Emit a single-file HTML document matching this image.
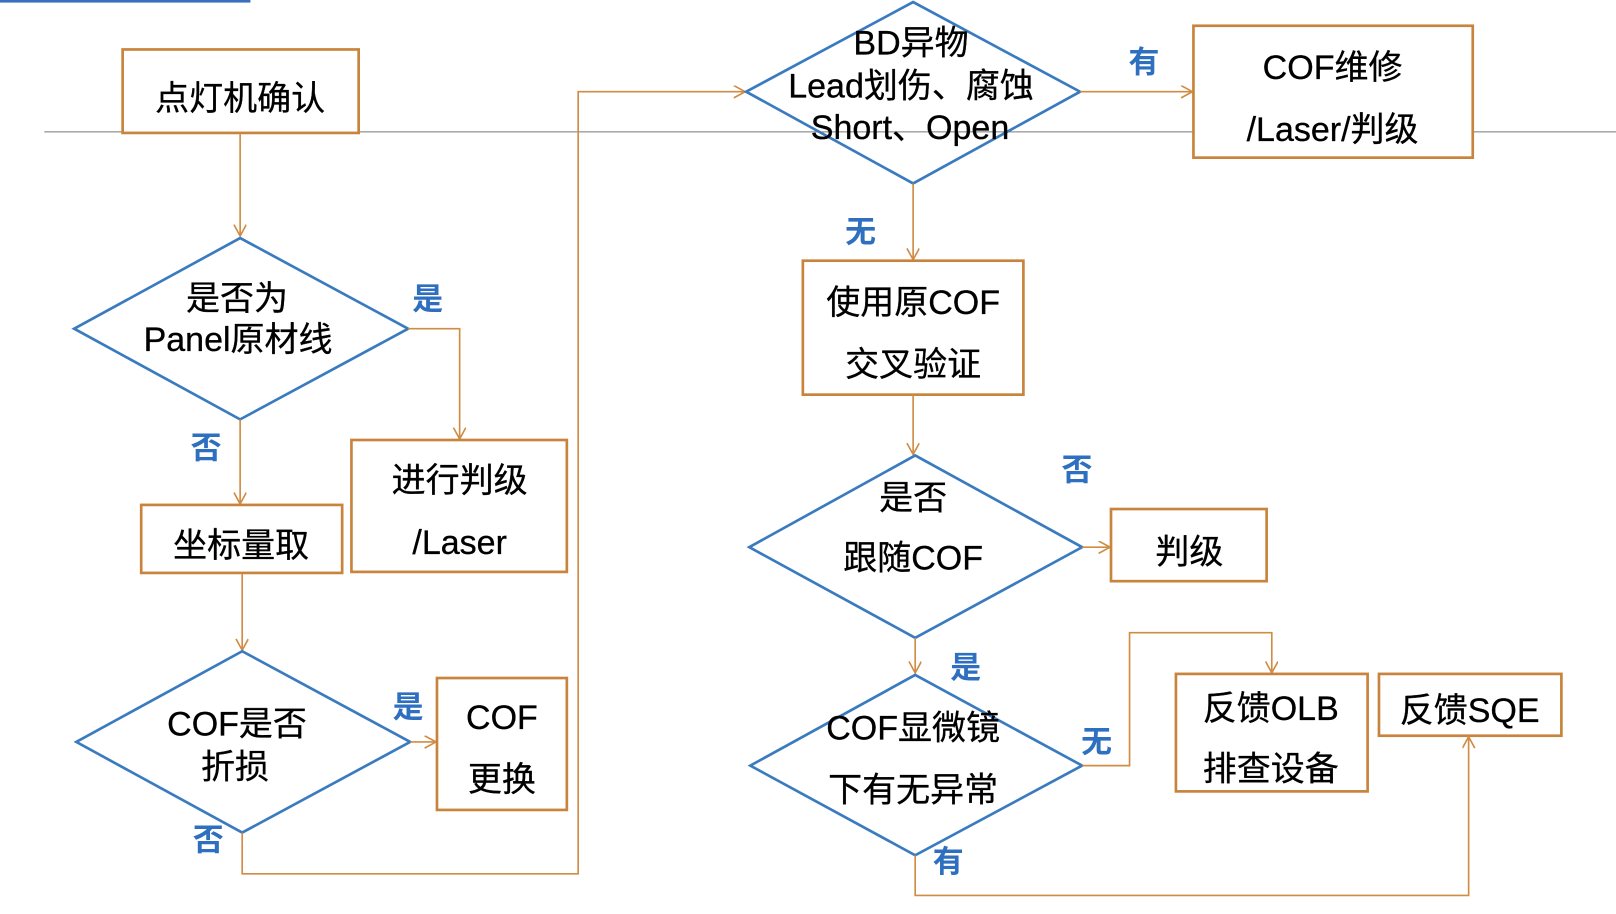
<!DOCTYPE html>
<html><head><meta charset="utf-8"><style>
html,body{margin:0;padding:0;background:#fff;}
svg{display:block;}
.t{font-family:"Liberation Sans","Noto Sans CJK SC",sans-serif;font-size:33px;fill:#000;stroke:#000;stroke-width:0.3;text-anchor:middle;dominant-baseline:central;}
.l{font-family:"Liberation Sans","Noto Sans CJK SC",sans-serif;font-size:30px;font-weight:bold;fill:#2E6FBF;text-anchor:middle;dominant-baseline:central;}
.b{fill:#fff;stroke:#C8843C;stroke-width:2.6;}
.d{fill:none;stroke:#3A7BC0;stroke-width:2.6;}
.c{fill:none;stroke:#D08C45;stroke-width:1.6;}
</style></head><body>
<svg width="1616" height="914" viewBox="0 0 1568 887" preserveAspectRatio="none">
<defs><marker id="a" markerWidth="14" markerHeight="14" refX="12" refY="6" orient="auto" markerUnits="userSpaceOnUse"><path d="M1,0 L12,6 L1,12" fill="none" stroke="#D08C45" stroke-width="1.6"/></marker></defs>
<rect x="0" y="0" width="243" height="2.5" fill="#3A6FC0"/>
<line x1="43" y1="128" x2="1568" y2="128" stroke="#777" stroke-width="1"/>

<rect class="b" x="119" y="48" width="229" height="81"/>
<text class="t" x="233" y="96">点灯机确认</text>
<line class="c" x1="233" y1="129" x2="233" y2="229" marker-end="url(#a)"/>

<polygon class="d" points="72,319 233,231 396,319 233,407"/>
<text class="t" x="230" y="290">是否为</text>
<text class="t" x="231" y="330">Panel原材线</text>
<text class="l" x="415" y="290">是</text>
<polyline class="c" points="396,319 446,319 446,426" marker-end="url(#a)"/>
<rect class="b" x="341" y="427" width="209" height="128"/>
<text class="t" x="446" y="467">进行判级</text>
<text class="t" x="446" y="527">/Laser</text>
<text class="l" x="200" y="435">否</text>
<line class="c" x1="233" y1="407" x2="233" y2="489" marker-end="url(#a)"/>
<rect class="b" x="137" y="490" width="195" height="66"/>
<text class="t" x="234" y="530">坐标量取</text>
<line class="c" x1="235" y1="556" x2="235" y2="631" marker-end="url(#a)"/>

<polygon class="d" points="74,720 235,632 398,720 235,808"/>
<text class="t" x="230" y="703">COF是否</text>
<text class="t" x="228" y="745">折损</text>
<text class="l" x="396" y="686">是</text>
<line class="c" x1="398" y1="720" x2="423" y2="720" marker-end="url(#a)"/>
<rect class="b" x="424" y="658" width="126" height="128"/>
<text class="t" x="487" y="697">COF</text>
<text class="t" x="487" y="757">更换</text>
<text class="l" x="202" y="815">否</text>
<polyline class="c" points="235,808 235,848 561,848 561,89 723,89" marker-end="url(#a)"/>

<polygon class="d" points="724,89 886,2 1048,89 886,178"/>
<text class="t" x="884" y="42">BD异物</text>
<text class="t" x="884" y="84">Lead划伤、腐蚀</text>
<text class="t" x="883" y="124">Short、Open</text>
<text class="l" x="1110" y="60">有</text>
<line class="c" x1="1048" y1="89" x2="1157" y2="89" marker-end="url(#a)"/>
<rect class="b" x="1158" y="25" width="271" height="128"/>
<text class="t" x="1293" y="66">COF维修</text>
<text class="t" x="1293" y="126">/Laser/判级</text>
<text class="l" x="835" y="225">无</text>
<line class="c" x1="886" y1="178" x2="886" y2="252" marker-end="url(#a)"/>
<rect class="b" x="779" y="253" width="214" height="130"/>
<text class="t" x="886" y="294">使用原COF</text>
<text class="t" x="886" y="354">交叉验证</text>
<line class="c" x1="886" y1="383" x2="886" y2="441" marker-end="url(#a)"/>

<polygon class="d" points="727,531 888,442 1050,531 888,619"/>
<text class="t" x="886" y="484">是否</text>
<text class="t" x="886" y="542">跟随COF</text>
<text class="l" x="1045" y="456">否</text>
<line class="c" x1="1050" y1="531" x2="1077" y2="531" marker-end="url(#a)"/>
<rect class="b" x="1078" y="494" width="151" height="70"/>
<text class="t" x="1154" y="536">判级</text>
<line class="c" x1="888" y1="619" x2="888" y2="653" marker-end="url(#a)"/>
<text class="l" x="937" y="648">是</text>

<polygon class="d" points="728,743 888,655 1050,743 888,830"/>
<text class="t" x="886" y="707">COF显微镜</text>
<text class="t" x="886" y="767">下有无异常</text>
<text class="l" x="1064" y="720">无</text>
<polyline class="c" points="1050,743 1096,743 1096,614 1234,614 1234,653" marker-end="url(#a)"/>
<rect class="b" x="1141" y="654" width="186" height="114"/>
<text class="t" x="1233" y="688">反馈OLB</text>
<text class="t" x="1233" y="747">排查设备</text>
<rect class="b" x="1338" y="654" width="177" height="60"/>
<text class="t" x="1426" y="690">反馈SQE</text>
<text class="l" x="920" y="836">有</text>
<polyline class="c" points="888,830 888,869 1425,869 1425,715" marker-end="url(#a)"/>
</svg>
</body></html>
